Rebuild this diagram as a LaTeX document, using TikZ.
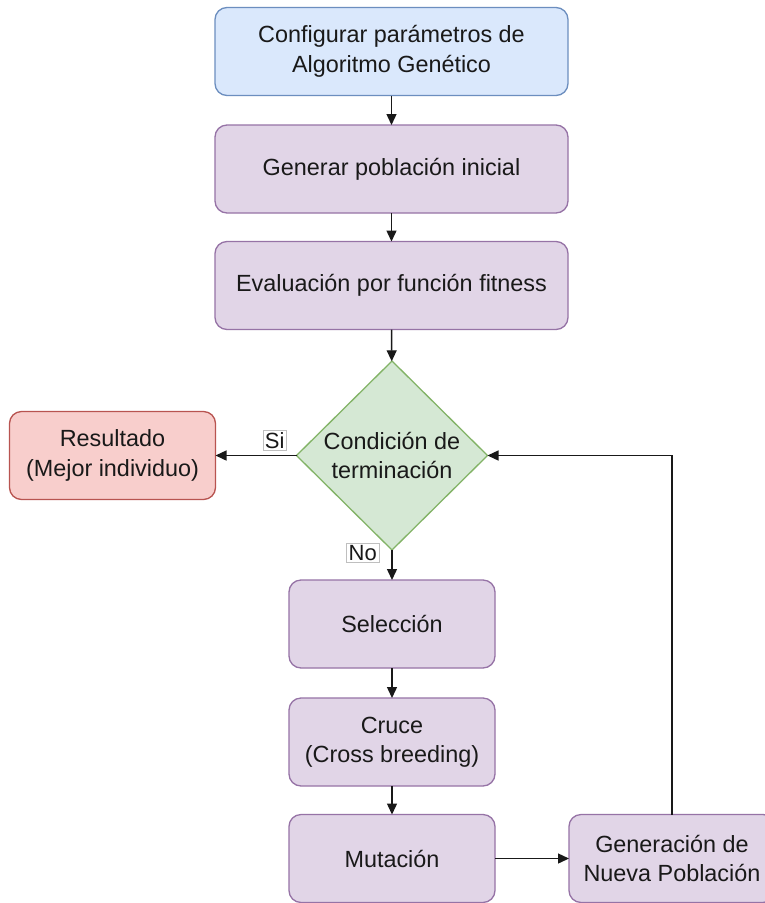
\documentclass[tikz,border=0pt]{standalone}
\usepackage{fontspec}
\setmainfont{Liberation Sans}
\usetikzlibrary{shapes.geometric,arrows.meta}
\definecolor{blueFill}{HTML}{DAE8FC}\definecolor{blueLine}{HTML}{6C8EBF}
\definecolor{purpFill}{HTML}{E1D5E7}\definecolor{purpLine}{HTML}{9673A6}
\definecolor{greenFill}{HTML}{D5E8D4}\definecolor{greenLine}{HTML}{82B366}
\definecolor{redFill}{HTML}{F8CECC}\definecolor{redLine}{HTML}{B85450}
\tikzset{
  base/.style={inner sep=0pt, outer sep=0pt, align=center, line width=1.3pt,
    font=\fontsize{23.4}{29.5}\selectfont, text=black!90},
  box/.style={base, rectangle, rounded corners=12pt, minimum height=88pt},
  wide/.style={box, minimum width=353pt},
  narrow/.style={box, minimum width=206pt},
  bluebox/.style={draw=blueLine, fill=blueFill},
  purpbox/.style={draw=purpLine, fill=purpFill},
  redbox/.style={draw=redLine, fill=redFill},
  decision/.style={base, diamond, draw=greenLine, fill=greenFill,
    minimum width=191pt, minimum height=189pt},
  link/.style={line width=1.4pt, black!90, -{Triangle[length=11pt,width=10pt]}},
  tag/.style={inner sep=2pt, fill=white, draw=black!25, line width=0.5pt,
    font=\fontsize{22}{26}\selectfont, text=black!90}
}
\begin{document}
\begin{tikzpicture}[x=1pt,y=-1pt]
  \useasboundingbox (0,0) rectangle (765,903);
  \clip (0,0) rectangle (765,903);
  \fill[white] (0,0) rectangle (765,903);

  % main column
  \node[wide, bluebox] (config) at (391.5,51.5) {Configurar parámetros de\\Algoritmo Genético};
  \node[wide, purpbox] (init) at (391.5,169) {Generar población inicial};
  \node[wide, purpbox] (fit) at (391.5,285.5) {Evaluación por función fitness};
  \node[decision] (cond) at (392,455.5) {Condición de\\terminación};
  \node[narrow, redbox] (res) at (112.5,455.5) {Resultado\\(Mejor individuo)};
  \node[narrow, purpbox] (sel) at (392,624) {Selección};
  \node[narrow, purpbox] (cross) at (392,742) {Cruce\\(Cross breeding)};
  \node[narrow, purpbox] (mut) at (392,858.5) {Mutación};
  \node[narrow, purpbox] (newpop) at (672,858.5) {Generación de\\Nueva Población};

  % connectors
  \draw[link] (config) -- (init);
  \draw[link] (init) -- (fit);
  \draw[link] (fit) -- (cond);
  \draw[link] (cond.west) -- (res.east)
    node[tag, pos=0.27, above=5pt] {Si};
  \draw[link] (cond.south) -- (sel.north)
    node[tag, pos=0.1, left=13pt] {No};
  \draw[link] (sel) -- (cross);
  \draw[link] (cross) -- (mut);
  \draw[link] (mut) -- (newpop);
  \draw[link] (newpop.north) |- (cond.east);
\end{tikzpicture}
\end{document}
